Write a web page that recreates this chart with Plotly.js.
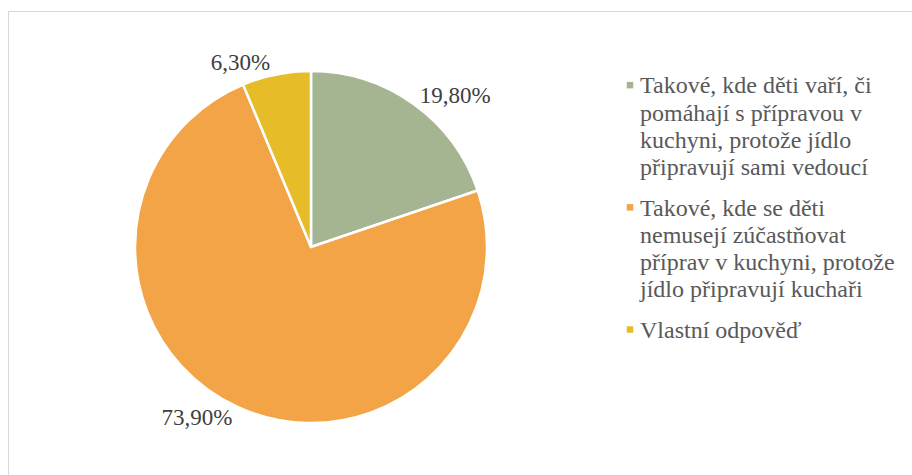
<!DOCTYPE html>
<html>
<head>
<meta charset="utf-8">
<script src="https://cdn.plot.ly/plotly-3.0.1.min.js"></script>
<style>
  html, body { margin: 0; padding: 0; background: #ffffff; }
  #wrap { position: relative; width: 912px; height: 475px; overflow: hidden; }
  #frame { position: absolute; left: 8px; top: 11px; width: 1000px; height: 1000px;
           border-left: 1px solid #d9d9d9; border-top: 1px solid #d9d9d9; pointer-events: none; }
  #chart { position: absolute; left: 0; top: 0; width: 912px; height: 475px; }
  #chart .legend path.scatterpts { transform: translate(30px, 0px); }
  #chart .legend .scrollbox { clip-path: none !important; }
</style>
</head>
<body>
<div id="wrap">
  <div id="frame"></div>
  <div id="chart"></div>
</div>
<script>
const categories = [
  "Takové, kde děti vaří, či<br>pomáhají s přípravou v<br>kuchyni, protože jídlo<br>připravují sami vedoucí",
  "Takové, kde se děti<br>nemusejí zúčastňovat<br>příprav v kuchyni, protože<br>jídlo připravují kuchaři",
  "Vlastní odpověď"
];
const values = [19.8, 73.9, 6.3];
const valueLabels = ["19,80%", "73,90%", "6,30%"];
const colors = ["#A5B592", "#F3A447", "#E7BC29"];

const serif = "Liberation Serif";

const pieTrace = {
  type: "pie",
  labels: categories,
  values: values,
  text: valueLabels,
  textinfo: "text",
  textposition: "outside",
  hoverinfo: "label+text",
  sort: false,
  direction: "clockwise",
  rotation: 0,
  showlegend: false,
  marker: { colors: colors, line: { color: "#ffffff", width: 2.5 } },
  outsidetextfont: { family: serif, size: 23, color: "#404040" },
  domain: { x: [135/912, 487/912], y: [1 - 423/475, 1 - 71/475] },
  automargin: false
};

// legend entries built from the same category/colour arrays
const legendTraces = categories.map((c, i) => ({
  type: "scatter",
  mode: "markers",
  x: [null],
  y: [null],
  name: c,
  legendgroup: "g" + i,
  showlegend: true,
  marker: { symbol: "square", size: 6.5, color: colors[i] },
  hoverinfo: "skip"
}));

const legendFontPx = 21;   // sets the line pitch Plotly uses (21 * 1.3 = 27.3px)
const legendGlyphPx = 24;  // visual glyph size of the legend text

const layout = {
  width: 912,
  height: 475,
  margin: { l: 0, r: 0, t: 0, b: 0, autoexpand: false },
  paper_bgcolor: "rgba(0,0,0,0)",
  plot_bgcolor: "rgba(0,0,0,0)",
  font: { family: serif, size: 21, color: "#595959" },
  xaxis: { visible: false },
  yaxis: { visible: false },
  showlegend: true,
  legend: {
    x: 600/912, xanchor: "left",
    y: 1 - 65/475, yanchor: "top",
    valign: "top",
    font: { family: serif, size: legendFontPx, color: "#595959" },
    bgcolor: "rgba(0,0,0,0)",
    traceorder: "grouped",
    tracegroupgap: 10,
    itemsizing: "trace"
  }
};

Plotly.newPlot("chart", [pieTrace].concat(legendTraces), layout, { displayModeBar: false, staticPlot: true })
  .then(() => {
    // Excel-like: larger legend glyphs, keeping Plotly's line pitch
    const ratio = legendFontPx / legendGlyphPx;
    document.querySelectorAll("#chart .legend text.legendtext").forEach(t => {
      t.style.fontSize = legendGlyphPx + "px";
      t.querySelectorAll("tspan.line").forEach(ts => {
        const dy = ts.getAttribute("dy");
        if (dy && parseFloat(dy) > 0) ts.setAttribute("dy", (parseFloat(dy) * ratio).toFixed(4) + "em");
      });
    });
  });
</script>
</body>
</html>
